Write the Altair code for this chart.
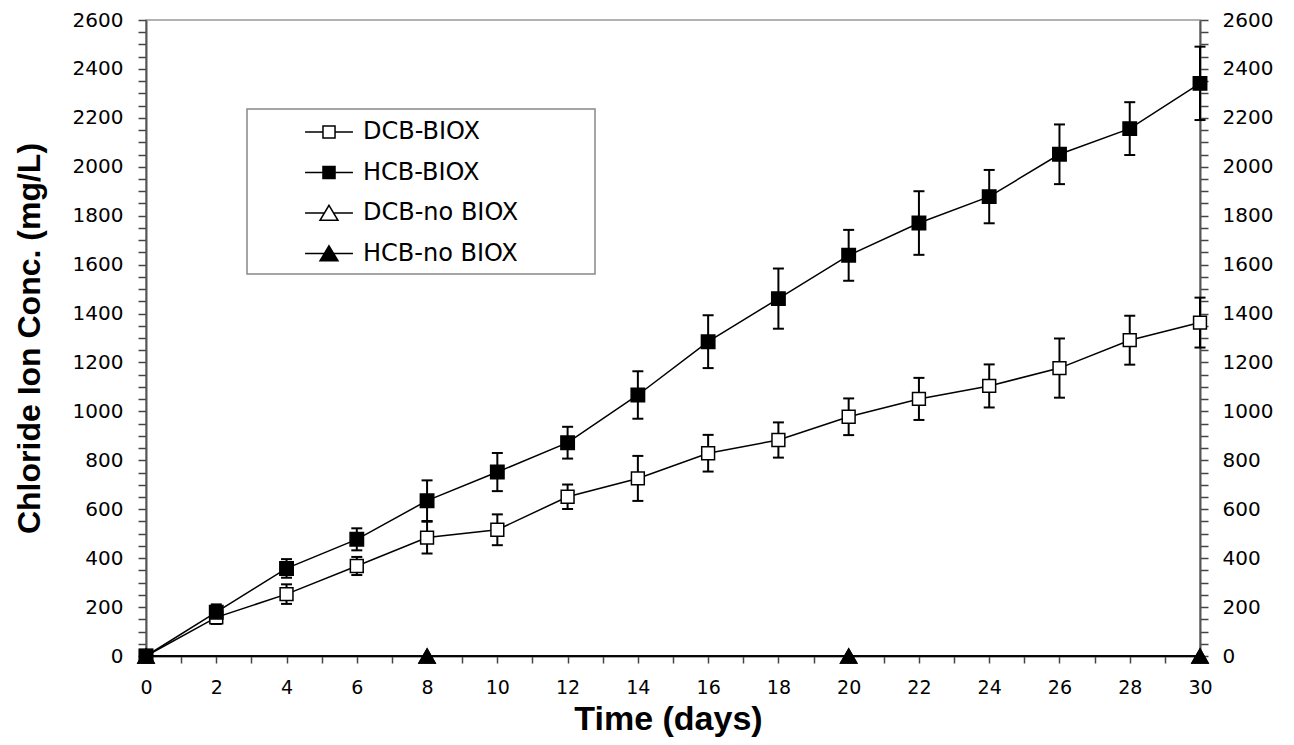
import altair as alt
import pandas as pd

# ---------------- data ----------------
days = [0, 2, 4, 6, 8, 10, 12, 14, 16, 18, 20, 22, 24, 26, 28, 30]
dcb_biox = [0, 158, 253, 368, 484, 516, 651, 726, 829, 883, 978, 1051, 1104, 1177, 1291, 1363]
dcb_biox_err = [0, 27, 40, 37, 65, 63, 50, 92, 75, 72, 75, 86, 88, 121, 100, 102]
hcb_biox = [0, 179, 358, 477, 635, 752, 872, 1067, 1285, 1461, 1638, 1770, 1878, 2051, 2156, 2341]
hcb_biox_err = [0, 32, 38, 45, 83, 78, 65, 97, 108, 123, 104, 130, 109, 122, 108, 150]
no_biox_days = [0, 8, 20, 30]
dcb_no_biox = [0, 0, 0, 0]
hcb_no_biox = [0, 0, 0, 0]
series_names = ["DCB-BIOX", "HCB-BIOX", "DCB-no BIOX", "HCB-no BIOX"]
y_tick_values = list(range(0, 2601, 50))
x_tick_values = list(range(0, 31, 1))

# ---------------- tables ----------------
rows = []
for d, v in zip(days, dcb_biox):
    rows.append({"day": d, "value": v, "series": series_names[0]})
for d, v in zip(days, hcb_biox):
    rows.append({"day": d, "value": v, "series": series_names[1]})
for d, v in zip(no_biox_days, dcb_no_biox):
    rows.append({"day": d, "value": v, "series": series_names[2]})
for d, v in zip(no_biox_days, hcb_no_biox):
    rows.append({"day": d, "value": v, "series": series_names[3]})
df = pd.DataFrame(rows)

err_rows = []
for name, vals, errs in [(series_names[0], dcb_biox, dcb_biox_err),
                         (series_names[1], hcb_biox, hcb_biox_err)]:
    for d, v, e in zip(days, vals, errs):
        if e > 0:
            err_rows.append({"day": d, "series": name, "lo": v - e, "hi": v + e})
err = pd.DataFrame(err_rows)

# ---------------- scales & axes ----------------
xs = alt.Scale(domain=[0, 30], nice=False, zero=False)
ys = alt.Scale(domain=[0, 2600], nice=False)

tick_font = "DejaVu Sans"
title_font = "Liberation Sans"

xaxis = alt.Axis(
    values=x_tick_values, format="d",
    labelExpr="datum.value % 2 === 0 ? datum.label : ''",
    tickSize=7, tickWidth=1.5, tickColor="#444",
    domainColor="#555", domainWidth=2,
    labelFont=tick_font, labelFontSize=19, labelColor="black",
    labelPadding=15, labelOverlap=False, labelFlush=False, grid=False,
    title="Time (days)", titleFont=title_font, titleFontSize=34,
    titleFontWeight="bold", titleColor="black",
    titleX=522, titleY=73, titleAlign="center", titleBaseline="alphabetic",
)

yaxis_left = alt.Axis(
    orient="left", values=y_tick_values, format="d",
    labelExpr="datum.value % 200 === 0 ? datum.label : ''",
    tickSize=8, tickWidth=1.5, tickColor="#444",
    domainColor="#555", domainWidth=2,
    labelFont=tick_font, labelFontSize=20, labelColor="black",
    labelPadding=15, labelOverlap=False, labelFlush=False, grid=False,
    title="Chloride Ion Conc. (mg/L)", titleFont=title_font, titleFontSize=32,
    titleFontWeight="bold", titleColor="black", titleAngle=270,
    titleX=-107, titleY=318, titleAlign="center", titleBaseline="alphabetic",
)

yaxis_right = alt.Axis(
    orient="right", values=y_tick_values, format="d",
    labelExpr="datum.value % 200 === 0 ? datum.label : ''",
    tickSize=8, tickWidth=1.5, tickColor="#444",
    domainColor="#555", domainWidth=2,
    labelFont=tick_font, labelFontSize=20, labelColor="black",
    labelPadding=14, labelOverlap=False, labelFlush=False, grid=False,
    title=None,
)

X = alt.X("day:Q", scale=xs, axis=xaxis)

# ---------------- layers ----------------
lines = alt.Chart(df).mark_line(color="black", strokeWidth=1.5).encode(
    x=X,
    y=alt.Y("value:Q", scale=ys, axis=yaxis_left),
    detail="series:N",
    order="day:Q",
)

bars = alt.Chart(err).mark_rule(color="black", strokeWidth=2).encode(
    x=X,
    y=alt.Y("lo:Q", scale=ys, axis=yaxis_right),
    y2="hi:Q",
)
caps_lo = alt.Chart(err).mark_tick(color="black", orient="horizontal", size=11,
                                   thickness=2, opacity=1).encode(
    x=X, y=alt.Y("lo:Q", scale=ys, axis=None))
caps_hi = alt.Chart(err).mark_tick(color="black", orient="horizontal", size=11,
                                   thickness=2, opacity=1).encode(
    x=X, y=alt.Y("hi:Q", scale=ys, axis=None))

point_styles = [
    ("square", "white", 165),
    ("square", "black", 180),
    ("triangle-up", "white", 256),
    ("triangle-up", "black", 256),
]
point_layers = []
for name, (shape, fill, size) in zip(series_names, point_styles):
    point_layers.append(
        alt.Chart(df).transform_filter(alt.datum.series == name)
        .mark_point(shape=shape, filled=True, fill=fill, stroke="black",
                    strokeWidth=1.5, size=size, opacity=1)
        .encode(x=X, y=alt.Y("value:Q", scale=ys, axis=None))
    )

# legend symbols: line + marker (custom paths, unit = 14 px)
sq = "M-1.71,0H-0.43M0.43,0H1.71M-0.43,-0.43H0.43V0.43H-0.43Z"
tri = "M-1.71,0H-0.3M0.3,0H1.71M0,-0.55L0.64,0.52L-0.64,0.52Z"
legend = alt.Legend(
    orient="none", legendX=101, legendY=89,
    title=" ", titleOrient="right", titlePadding=69, titleFontSize=6,
    symbolSize=784, symbolStrokeWidth=1.5,
    symbolOpacity=1, symbolOffset=59, labelOffset=19,
    labelFont=tick_font, labelFontSize=24, labelColor="black", labelLimit=400,
    rowPadding=13.5,
)
legend_layer = alt.Chart(df).mark_point(opacity=0, strokeWidth=1.5).encode(
    x=X,
    y=alt.Y("value:Q", scale=ys, axis=None),
    shape=alt.Shape("series:N", scale=alt.Scale(domain=series_names,
                                                range=[sq, sq, tri, tri]),
                    legend=legend),
    fill=alt.Fill("series:N", scale=alt.Scale(domain=series_names,
                                              range=["white", "black", "white", "black"]),
                  legend=legend),
    stroke=alt.Stroke("series:N", scale=alt.Scale(domain=series_names,
                                                  range=["black", "black", "black", "black"]),
                      legend=legend),
)

chart = (
    alt.layer(lines, bars, caps_lo, caps_hi, *point_layers, legend_layer)
    .resolve_axis(y="independent")
    .properties(
        width=1054, height=636,
        autosize=alt.AutoSizeParams(type="none"),
        padding={"left": 138, "top": 12, "right": 80, "bottom": 81},
    )
    .configure_view(stroke="#999", strokeWidth=1.5)
    .configure_legend(strokeColor="#888", strokeWidth=1.5, fillColor="white", padding=8)
)

chart.save("out.html", embed_options={"renderer": "svg", "actions": False})
